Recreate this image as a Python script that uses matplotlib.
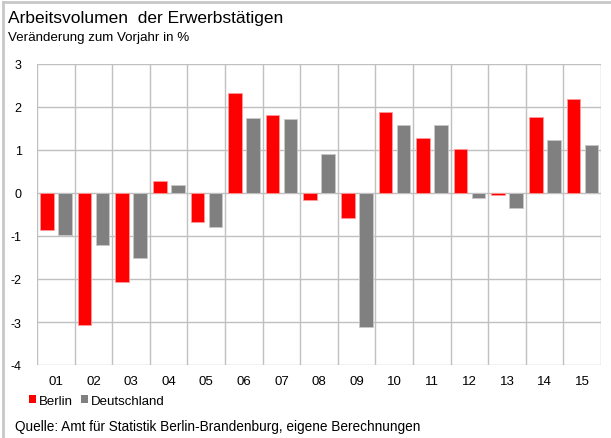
import matplotlib
matplotlib.use("Agg")
import matplotlib.pyplot as plt
import numpy as np
from matplotlib.lines import Line2D
from matplotlib.patches import Rectangle

categories = ["01", "02", "03", "04", "05", "06", "07", "08", "09", "10", "11", "12", "13", "14", "15"]
berlin = [-0.87, -3.07, -2.08, 0.29, -0.67, 2.33, 1.82, -0.16, -0.57, 1.88, 1.28, 1.02, -0.04, 1.76, 2.19]
deutschland = [-0.98, -1.22, -1.51, 0.18, -0.78, 1.74, 1.71, 0.91, -3.12, 1.58, 1.58, -0.11, -0.36, 1.23, 1.12]
yticks = [3, 2, 1, 0, -1, -2, -3, -4]

plt.rcParams['font.family'] = ['Liberation Sans', 'DejaVu Sans']

fig = plt.figure(figsize=(6.11, 4.39), dpi=100)
ax = fig.add_axes([37/611, 1-366/439, (601-37)/611, (366-65)/439])

x = np.arange(len(categories))
w = 0.36
ax.bar(x - 0.235, berlin, width=w, color="#FF0000", edgecolor="#FF9999", linewidth=0.6, zorder=3)
ax.bar(x + 0.245, deutschland, width=w, color="#808080", edgecolor="#C8C8C8", linewidth=0.6, zorder=3)

ax.set_xlim(-0.5, len(categories) - 0.5)
ax.set_ylim(-4, 3)
ax.set_yticks(yticks)
ax.set_yticklabels([str(t) for t in yticks], fontsize=9)
ax.set_xticks(x)
ax.set_xticklabels(categories, fontsize=9.5)
ax.tick_params(axis='both', which='both', length=0)
ax.tick_params(axis='y', pad=11)
ax.tick_params(axis='x', pad=7)
ax.grid(False)
for b in np.arange(-0.5, len(categories) + 0.5):
    ax.axvline(b, color="#C0C0C0", linewidth=1.0, zorder=1)
for t in yticks:
    ax.axhline(t, color="#C0C0C0", linewidth=1.0, zorder=1)
for s in ax.spines.values():
    s.set_visible(False)

fig.text(8/611, 1-19/439, "Arbeitsvolumen  der Erwerbstätigen", fontsize=12.5, va='center', ha='left')
fig.text(8/611, 1-38/439, "Veränderung zum Vorjahr in %", fontsize=9.6, va='center', ha='left')

handles = [Rectangle((0, 0), 1, 1, facecolor="#FF0000", linewidth=0),
           Rectangle((0, 0), 1, 1, facecolor="#808080", linewidth=0)]
fig.legend(handles, ["Berlin", "Deutschland"], loc='center left', bbox_to_anchor=(29/611, 1-402/439),
           ncol=2, frameon=False, fontsize=9.5, handlelength=0.52, handleheight=0.52,
           handletextpad=0.2, columnspacing=0.65, borderaxespad=0, borderpad=0)

fig.text(15/611, 1-427/439, "Quelle: Amt für Statistik Berlin-Brandenburg, eigene Berechnungen", fontsize=9.8,
         va='center', ha='left')

fig.add_artist(Line2D([3/611, 3/611], [0, 1-3/439], transform=fig.transFigure, color="#C8C8C8", linewidth=2))
fig.add_artist(Line2D([3/611, 1], [1-3/439, 1-3/439], transform=fig.transFigure, color="#C8C8C8", linewidth=2))

fig.savefig("out.png", dpi=100)
